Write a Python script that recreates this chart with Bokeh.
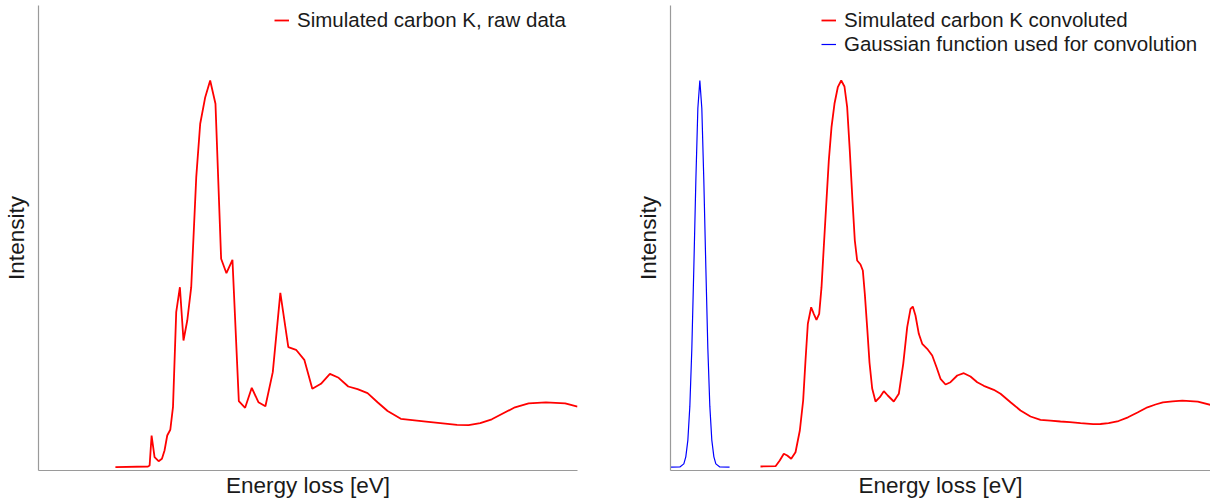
from bokeh.plotting import figure
from bokeh.layouts import row
from bokeh.models import Range1d, FixedTicker
from bokeh.embed import file_html
from bokeh.resources import INLINE

# ---- data (energy in eV, intensity normalised to main peak) ----
raw_energy = [283.56, 287.19, 287.37, 287.59, 287.92, 288.37, 288.74, 289.03, 289.33, 289.67,
              289.97, 290.33, 290.74, 291.14, 291.56, 292.00, 292.56, 293.00, 293.56, 294.11,
              294.70, 295.33, 295.92, 296.59, 297.30, 298.00, 298.74, 299.48, 300.26, 301.08,
              301.92, 302.81, 303.67, 304.59, 305.48, 306.44, 307.44, 308.41, 309.48, 310.52,
              311.63, 312.74, 313.86, 315.33, 318.14, 321.59, 322.88, 324.17, 325.46, 328.04,
              329.56, 331.48, 333.63, 335.00]
raw_intensity = [0.0085, 0.0103, 0.0128, 0.0897, 0.0341, 0.0238, 0.0300, 0.0513, 0.0897, 0.1044,
                 0.1623, 0.4059, 0.4700, 0.3333, 0.3846, 0.4700, 0.7521, 0.8890, 0.9572, 1.0000,
                 0.9403, 0.5428, 0.5059, 0.5403, 0.1777, 0.1608, 0.2121, 0.1751, 0.1649, 0.2521,
                 0.4556, 0.3162, 0.3095, 0.2838, 0.2095, 0.2223, 0.2479, 0.2377, 0.2154, 0.2085,
                 0.1982, 0.1751, 0.1526, 0.1326, 0.1254, 0.1169, 0.1162, 0.1213, 0.1313, 0.1621,
                 0.1723, 0.1749, 0.1723, 0.1638]

conv_energy = [285.00, 286.67, 287.14, 287.59, 287.97, 288.41, 288.89, 289.37, 289.74, 290.00,
               290.26, 290.63, 290.92, 291.22, 291.52, 291.78, 292.03, 292.33, 292.59, 292.89,
               293.22, 293.59, 293.97, 294.33, 294.63, 294.92, 295.22, 295.48, 295.74, 296.11,
               296.37, 296.59, 296.86, 297.11, 297.41, 297.78, 298.26, 298.70, 299.14, 299.81,
               300.37, 300.86, 301.30, 301.67, 301.92, 302.22, 302.59, 302.97, 303.52, 304.08,
               304.56, 305.00, 305.56, 306.11, 306.86, 307.59, 308.33, 309.08, 309.81, 310.92,
               311.67, 312.78, 313.89, 315.00, 316.11, 317.21, 318.33, 319.37, 320.56, 321.96,
               322.78, 323.68, 324.78, 325.83, 326.89, 327.99, 328.89, 329.71, 330.78, 331.87,
               333.59, 335.00]
conv_intensity = [0.0103, 0.0110, 0.0256, 0.0428, 0.0385, 0.0300, 0.0469, 0.1026, 0.1795, 0.2821,
                  0.3762, 0.4187, 0.4018, 0.3864, 0.4018, 0.4700, 0.5726, 0.6923, 0.7949, 0.8803,
                  0.9403, 0.9828, 1.0000, 0.9846, 0.9315, 0.8205, 0.6923, 0.5897, 0.5385, 0.5282,
                  0.5128, 0.4531, 0.3641, 0.2769, 0.2103, 0.1769, 0.1879, 0.2033, 0.1923, 0.1769,
                  0.1967, 0.2736, 0.3674, 0.4146, 0.4205, 0.3974, 0.3505, 0.3249, 0.3121, 0.2949,
                  0.2649, 0.2351, 0.2205, 0.2264, 0.2436, 0.2495, 0.2410, 0.2264, 0.2172, 0.2069,
                  0.1967, 0.1751, 0.1538, 0.1385, 0.1300, 0.1279, 0.1256, 0.1238, 0.1213, 0.1187,
                  0.1192, 0.1213, 0.1269, 0.1364, 0.1487, 0.1621, 0.1692, 0.1749, 0.1774, 0.1792,
                  0.1767, 0.1682]

gauss_energy = [275.00, 276.04, 276.48, 276.70, 276.93, 277.15, 277.37, 277.59, 277.82, 278.04,
                278.26, 278.48, 278.70, 278.93, 279.15, 279.37, 279.59, 279.82, 280.04, 280.48, 281.56]
gauss_intensity = [0.0085, 0.009, 0.017, 0.035, 0.078, 0.165, 0.312, 0.518, 0.746, 0.929,
                   1.000, 0.929, 0.746, 0.518, 0.312, 0.165, 0.078, 0.035, 0.017, 0.009, 0.0085]

labels_left = ["Simulated carbon K, raw data"]
labels_right = ["Simulated carbon K convoluted", "Gaussian function used for convolution"]
x_label = "Energy loss [eV]"
y_label = "Intensity"

FONT = "Liberation Sans"
TXT = "#1a1a1a"
AX = "#9a9a9a"


def make_fig(width, left, right):
    p = figure(width=width, height=503, output_backend="svg", toolbar_location=None,
               x_range=Range1d(275, 335), y_range=Range1d(0, 465 / 390),
               min_border_left=left, min_border_right=right,
               min_border_top=5, min_border_bottom=33)
    p.outline_line_color = None
    p.xgrid.visible = False
    p.ygrid.visible = False
    p.background_fill_color = "white"
    p.border_fill_color = "white"
    for ax in (p.xaxis[0], p.yaxis[0]):
        ax.ticker = FixedTicker(ticks=[])
        ax.major_tick_out = 0
        ax.major_tick_in = 0
        ax.minor_tick_out = 0
        ax.minor_tick_in = 0
        ax.major_label_text_font_size = "0px"
        ax.major_label_standoff = 0
        ax.axis_line_color = AX
        ax.axis_line_width = 1.2
        ax.axis_label_text_font = FONT
        ax.axis_label_text_font_size = "22.5px"
        ax.axis_label_text_font_style = "normal"
        ax.axis_label_text_color = TXT
    p.xaxis.axis_label = x_label
    p.yaxis.axis_label = y_label
    p.xaxis.axis_label_standoff = 2
    p.yaxis.axis_label_standoff = 10
    return p


def style_legend(p, label_width):
    lg = p.legend[0]
    lg.location = "top_right"
    lg.margin = 0
    lg.padding = 3
    lg.spacing = -2
    lg.glyph_width = 15
    lg.glyph_height = 20
    lg.label_standoff = 8
    lg.label_width = label_width
    lg.label_text_font = FONT
    lg.label_text_font_size = "20.5px"
    lg.label_text_color = TXT
    lg.background_fill_alpha = 0
    lg.border_line_alpha = 0


p1 = make_fig(605, 37, 28)
p1.line(raw_energy, raw_intensity, line_color="#ff0000", line_width=1.8,
        legend_label=labels_left[0])
style_legend(p1, 277)

p2 = make_fig(605, 65, 0)
p2.line(conv_energy, conv_intensity, line_color="#ff0000", line_width=1.8,
        legend_label=labels_right[0])
p2.line(gauss_energy, gauss_intensity, line_color="#0000ff", line_width=1.2,
        legend_label=labels_right[1])
style_legend(p2, 363)

layout = row(p1, p2, spacing=0)
open("out.html", "w").write(file_html(layout, INLINE))
